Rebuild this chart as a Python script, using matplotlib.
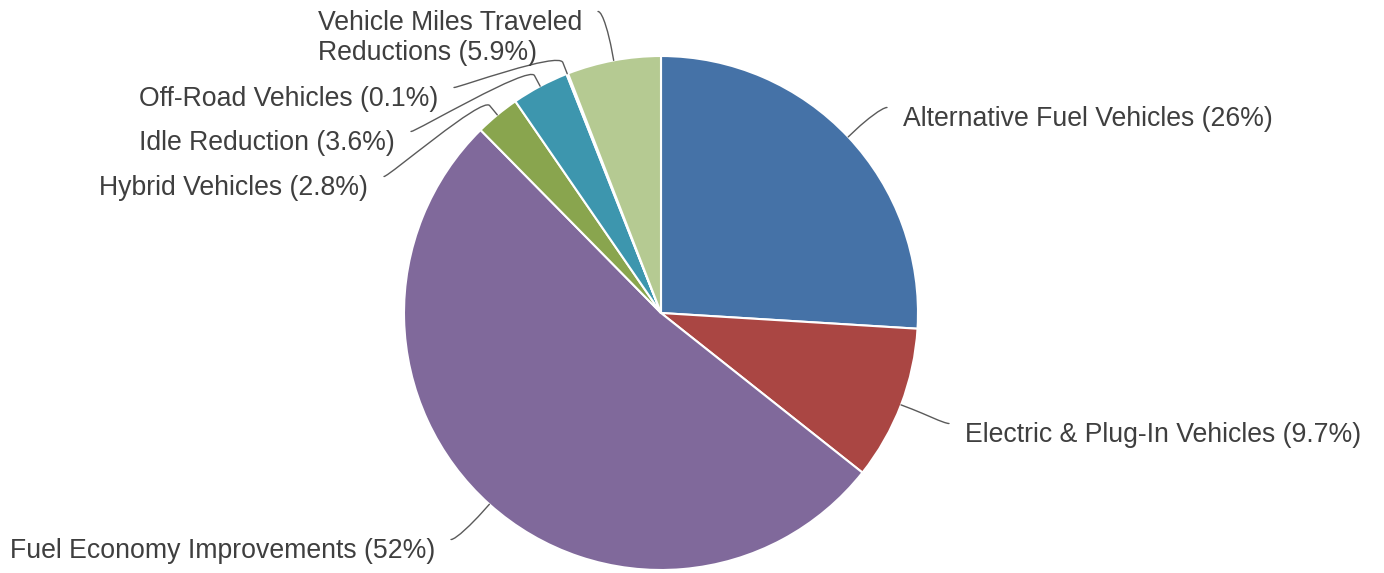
import matplotlib
matplotlib.use('Agg')
import matplotlib.pyplot as plt
from matplotlib.path import Path
from matplotlib.patches import PathPatch
import numpy as np

# ---- data ----
categories = ["Alternative Fuel Vehicles", "Electric & Plug-In Vehicles",
              "Fuel Economy Improvements", "Hybrid Vehicles", "Idle Reduction",
              "Off-Road Vehicles", "Vehicle Miles Traveled\nReductions"]
shares = [26, 9.7, 52, 2.8, 3.6, 0.1, 5.9]
share_labels = ["26%", "9.7%", "52%", "2.8%", "3.6%", "0.1%", "5.9%"]
colors = ['#4572A7', '#AA4643', '#80699B', '#89A54E', '#3D96AE', '#DB843D', '#B5CA92']

# ---- layout (pixel coords, y downward) ----
W, H = 1384, 573
CX, CY, R = 661, 313, 257
# label anchor: x of text edge, y of first text line centre, alignment
label_x = [903, 965, 435, 368, 395, 438, 582]
label_y = [117, 433, 549, 186, 141, 97, 21]
label_side = ['left', 'left', 'right', 'right', 'right', 'right', 'right']
LINE_H = 29
GAP = 16
BREAK = 12
TEXT_SHIFT = 2
TEXT_COLOR = '#3f3f3f'
CONN_COLOR = '#5a5a5a'
FS = 19.2

plt.rcParams['font.family'] = ['Liberation Sans', 'DejaVu Sans']

fig = plt.figure(figsize=(W / 100, H / 100), dpi=100)
ax = fig.add_axes([0, 0, 1, 1])

wedges, _ = ax.pie(shares, colors=colors, startangle=90, counterclock=False,
                   radius=R, center=(CX, H - CY),
                   wedgeprops=dict(edgecolor='white', linewidth=1.5))
ax.set_xlim(0, W)
ax.set_ylim(0, H)
ax.set_aspect('equal', adjustable='box')
ax.axis('off')

for w, cat, lab, lx, ly, side in zip(wedges, categories, share_labels,
                                     label_x, label_y, label_side):
    mid = np.deg2rad((w.theta1 + w.theta2) / 2.0)
    cx, cy = w.center
    E = np.array([cx + w.r * np.cos(mid), cy + w.r * np.sin(mid)])
    B = np.array([cx + (w.r + BREAK) * np.cos(mid), cy + (w.r + BREAK) * np.sin(mid)])
    n_lines = cat.count('\n') + 1
    text = f"{cat} ({lab})"
    # connector start
    if side == 'left':
        L = np.array([lx - GAP, H - (ly - 9.5)])
        c1 = L + np.array([-5, 0])
    else:
        L = np.array([lx + GAP, H - (ly - 9.5)])
        c1 = L + np.array([5, 0])
    c2 = 2 * B - E
    verts = [tuple(L), tuple(c1), tuple(c2), tuple(B), tuple(E)]
    codes = [Path.MOVETO, Path.CURVE4, Path.CURVE4, Path.CURVE4, Path.LINETO]
    ax.add_patch(PathPatch(Path(verts, codes), facecolor='none',
                           edgecolor=CONN_COLOR, linewidth=1.0,
                           capstyle='round', zorder=3))
    block_center = ly + (n_lines - 1) * LINE_H / 2.0 + TEXT_SHIFT
    ax.text(lx, H - block_center, text, ha=side, va='center',
            multialignment='left', fontsize=FS, color=TEXT_COLOR,
            linespacing=1.2)

fig.savefig('out.png', dpi=100)
